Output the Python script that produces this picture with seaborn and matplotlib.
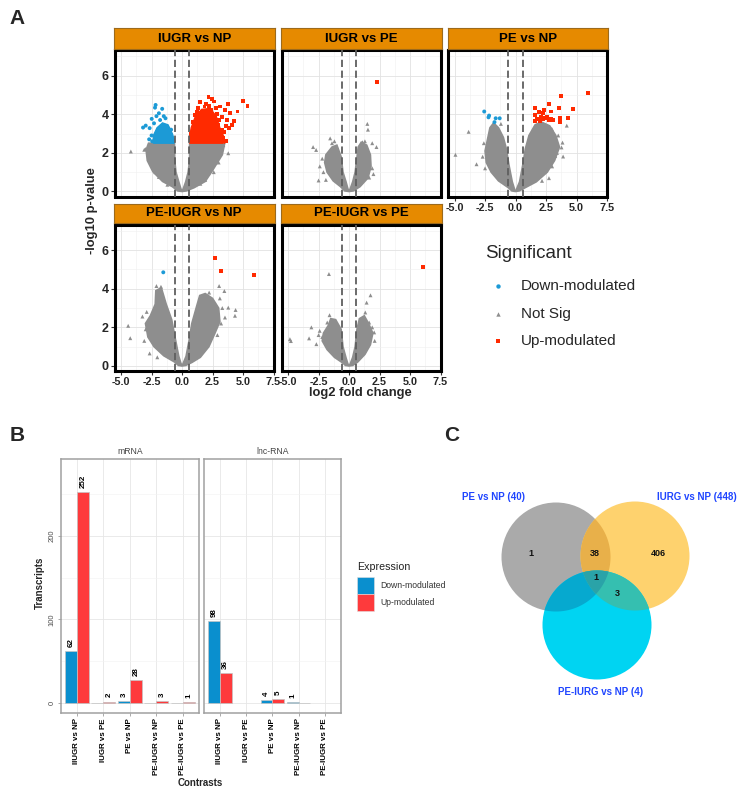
import numpy as np
import pandas as pd
import matplotlib
matplotlib.use("Agg")
import matplotlib.pyplot as plt
import seaborn as sns
from matplotlib.patches import Circle, Rectangle, Polygon

# ============================ DATA ============================
volcano_titles = ["IUGR vs NP", "IUGR vs PE", "PE vs NP", "PE-IUGR vs NP", "PE-IUGR vs PE"]
sig_levels = ["Down-modulated", "Not Sig", "Up-modulated"]
x_ticks = [-5.0, -2.5, 0.0, 2.5, 5.0, 7.5]
y_ticks = [0, 2, 4, 6]
fc_cutoff = 0.585

# --- IUGR vs NP ---
up_iugr_np = [(2.17, 4.91), (2.44, 4.79), (1.49, 4.62), (5.01, 4.69), (5.37, 4.45), (4.55, 4.14),
              (3.74, 4.52), (4.28, 3.66), (3.85, 3.28), (3.39, 2.76), (3.52, 4.22), (3.93, 4.05),
              (3.25, 3.88), (2.98, 3.45), (3.66, 3.71), (2.76, 4.31), (1.84, 4.40), (1.08, 3.97),
              (2.60, 4.66), (3.12, 4.40), (4.06, 3.45), (3.47, 3.10), (1.30, 4.30), (2.00, 4.55),
              (2.90, 4.00), (3.60, 3.40), (3.20, 3.00), (0.90, 3.60), (0.75, 3.00), (3.60, 2.60),
              (3.30, 3.20), (2.40, 4.20), (0.70, 2.75), (1.20, 4.10), (2.20, 4.45), (3.00, 3.70)]
up_core_iugr_np = [(0.62, 2.5), (3.5, 2.5), (3.45, 2.8), (3.1, 3.3), (2.8, 3.9), (2.3, 4.3),
                   (1.6, 4.25), (1.1, 3.9), (0.75, 3.3), (0.62, 2.8)]
down_iugr_np = [(-3.20, 3.31), (-2.98, 3.41), (-2.17, 4.48), (-2.22, 4.34), (-1.63, 4.28), (-2.49, 3.76),
                (-1.36, 3.79), (-1.90, 4.05), (-2.66, 3.28), (-2.30, 3.53), (-1.22, 3.36), (-2.70, 2.70),
                (-2.50, 2.90), (-1.50, 3.90), (-1.80, 3.70), (-0.90, 3.20), (-2.10, 3.90), (-1.00, 2.90),
                (-2.45, 2.60), (-0.75, 2.70)]
down_core_iugr_np = [(-0.65, 2.5), (-2.35, 2.5), (-2.35, 2.9), (-2.05, 3.3), (-1.6, 3.55),
                     (-1.15, 3.45), (-0.8, 3.0), (-0.65, 2.7)]
ns_iugr_np = [(-4.2, 2.07), (3.79, 1.98), (2.17, 0.95), (3.25, 2.24), (-1.68, 1.31), (-2.44, 1.72),
              (2.9, 2.35), (-3.0, 2.2), (3.0, 1.5), (2.6, 1.0), (-2.2, 1.0), (-2.7, 1.72),
              (-2.17, 1.47), (-1.36, 0.69), (-3.1, 2.16), (2.44, 1.55), (2.71, 1.72), (1.9, 0.6),
              (2.98, 2.24), (3.39, 2.4), (-1.9, 0.75), (1.5, 0.4), (-1.2, 0.35)]
cloud_l_iugr_np = [(0, 0), (-0.35, 0.03), (-0.8, 0.25), (-1.6, 0.52), (-2.4, 1.03), (-2.85, 1.6),
                   (-2.95, 2.15), (-2.75, 2.5), (-0.62, 2.5), (-0.6, 1.6), (-0.5, 1.0), (-0.27, 0.5),
                   (-0.1, 0.15)]
cloud_r_iugr_np = [(0, 0), (0.1, 0.15), (0.3, 0.5), (0.5, 1.0), (0.62, 1.6), (0.62, 2.5), (3.5, 2.5),
                   (3.3, 1.9), (2.44, 1.03), (1.9, 0.52), (1.0, 0.2), (0.35, 0.03)]

# --- IUGR vs PE ---
up_iugr_pe = [(2.3, 5.67)]
down_iugr_pe = []
ns_iugr_pe = [(-2.95, 2.3), (-2.5, 0.57), (-1.55, 2.75), (-1.4, 2.5), (1.5, 3.5), (1.55, 3.2),
              (1.9, 2.5), (2.25, 2.3), (1.1, 2.55), (1.65, 0.72), (-2.7, 2.15), (-2.2, 1.7),
              (-1.0, 2.3), (1.3, 2.6), (-2.4, 1.3), (-2.1, 1.0), (-1.9, 0.6), (1.9, 1.2),
              (2.0, 0.9), (-1.2, 2.6)]
cloud_l_iugr_pe = [(0, 0), (-0.35, 0.03), (-0.7, 0.25), (-1.3, 0.55), (-1.8, 1.0), (-2.0, 1.5),
                   (-1.9, 1.9), (-1.4, 2.3), (-1.0, 2.4), (-0.65, 1.8), (-0.5, 1.0), (-0.25, 0.5),
                   (-0.1, 0.15)]
cloud_r_iugr_pe = [(0, 0), (0.1, 0.15), (0.3, 0.5), (0.5, 1.0), (0.62, 1.6), (0.75, 2.3), (1.0, 2.55),
                   (1.45, 2.4), (1.75, 1.9), (1.8, 1.3), (1.55, 0.7), (0.9, 0.25), (0.35, 0.03)]

# --- PE vs NP ---
up_pe_np = [(5.96, 5.12), (3.71, 4.93), (2.74, 4.52), (3.60, 4.34), (4.74, 4.29), (1.60, 4.31),
            (2.93, 4.14), (2.33, 4.20), (2.22, 4.05), (1.90, 4.10), (1.63, 3.97), (2.09, 3.88),
            (2.44, 3.79), (1.79, 3.74), (1.57, 3.66), (1.98, 3.66), (2.25, 3.74), (2.71, 3.71),
            (2.93, 3.74), (3.09, 3.72), (3.63, 3.79), (3.66, 3.62), (4.28, 3.81), (2.60, 3.88)]
down_pe_np = [(-2.57, 4.14), (-2.17, 3.93), (-2.22, 3.84), (-1.63, 3.79), (-1.30, 3.79), (-1.73, 3.59)]
ns_pe_np = [(-3.85, 3.09), (-4.93, 1.9), (-3.2, 1.41), (3.85, 2.53), (3.77, 2.28), (3.9, 1.81),
            (3.25, 1.84), (2.74, 0.69), (2.17, 0.55), (2.98, 3.24), (4.2, 3.41), (-2.6, 2.5),
            (3.5, 2.9), (-1.2, 3.5), (-2.7, 1.8), (-2.5, 1.2), (3.4, 2.0), (3.0, 1.3)]
cloud_l_pe_np = [(0, 0), (-0.3, 0.03), (-0.6, 0.2), (-1.4, 0.55), (-2.0, 1.0), (-2.4, 1.5), (-2.5, 2.1),
                 (-2.3, 2.7), (-2.1, 3.3), (-1.8, 3.55), (-1.4, 3.3), (-1.0, 2.8), (-0.75, 2.2),
                 (-0.55, 1.4), (-0.27, 0.5), (-0.1, 0.15)]
cloud_r_pe_np = [(0, 0), (0.1, 0.15), (0.33, 0.5), (0.6, 1.4), (0.8, 2.2), (1.1, 2.9), (1.6, 3.45),
                 (2.1, 3.6), (2.8, 3.4), (3.3, 2.9), (3.6, 2.3), (3.2, 1.6), (2.6, 1.0), (1.7, 0.5),
                 (0.8, 0.2), (0.3, 0.03)]

# --- PE-IUGR vs NP ---
up_peiugr_np = [(2.68, 5.57), (3.17, 4.93), (5.88, 4.71)]
down_peiugr_np = [(-1.54, 4.85)]
ns_peiugr_np = [(-2.1, 4.14), (-1.73, 4.1), (-3.25, 2.56), (-4.42, 2.08), (-4.25, 1.44), (-2.98, 1.9),
                (-2.03, 0.45), (-2.66, 0.65), (3.04, 4.14), (3.47, 3.88), (2.22, 3.8), (4.39, 2.9),
                (4.34, 2.6), (3.79, 3.02), (3.52, 2.51), (3.1, 3.5), (3.3, 3.0), (-3.1, 1.3),
                (-2.9, 2.8), (2.9, 1.6), (3.2, 2.2)]
cloud_l_peiugr_np = [(0, 0), (-0.3, 0.03), (-0.6, 0.2), (-1.5, 0.53), (-2.3, 1.0), (-2.8, 1.5),
                     (-3.0, 2.2), (-2.6, 2.6), (-2.2, 3.2), (-2.15, 3.9), (-1.7, 4.05), (-1.3, 3.2),
                     (-0.85, 2.4), (-0.55, 1.4), (-0.27, 0.5), (-0.1, 0.15)]
cloud_r_peiugr_np = [(0, 0), (0.1, 0.15), (0.33, 0.5), (0.6, 1.4), (0.8, 2.2), (1.2, 3.1), (1.45, 3.65),
                     (1.9, 3.75), (2.5, 3.5), (3.0, 3.0), (3.1, 2.3), (2.7, 1.7), (2.2, 1.0),
                     (1.5, 0.45), (0.8, 0.18), (0.3, 0.03)]

# --- PE-IUGR vs PE ---
up_peiugr_pe = [(6.04, 5.14)]
down_peiugr_pe = []
ns_peiugr_pe = [(-1.65, 4.76), (1.76, 3.66), (1.44, 3.28), (-1.6, 2.63), (-1.79, 2.25), (-3.09, 2.0),
                (-3.28, 1.43), (-4.85, 1.39), (-4.77, 1.29), (-2.41, 1.82), (-2.68, 1.13), (1.33, 2.77),
                (1.65, 2.25), (2.06, 1.74), (-2.2, 1.5), (1.9, 2.0), (-2.5, 1.6), (2.1, 1.3)]
cloud_l_peiugr_pe = [(0, 0), (-0.3, 0.03), (-0.5, 0.15), (-1.2, 0.45), (-1.8, 0.85), (-2.2, 1.3),
                     (-2.1, 1.7), (-1.7, 2.1), (-1.5, 2.45), (-1.1, 2.4), (-0.65, 1.9), (-0.5, 1.0),
                     (-0.24, 0.4), (-0.1, 0.12)]
cloud_r_peiugr_pe = [(0, 0), (0.1, 0.12), (0.3, 0.45), (0.5, 1.0), (0.65, 1.9), (0.85, 2.45),
                     (1.25, 2.6), (1.6, 2.2), (1.95, 1.7), (1.75, 1.1), (1.3, 0.6), (0.7, 0.2),
                     (0.3, 0.03)]

volcano_up = [up_iugr_np, up_iugr_pe, up_pe_np, up_peiugr_np, up_peiugr_pe]
volcano_down = [down_iugr_np, down_iugr_pe, down_pe_np, down_peiugr_np, down_peiugr_pe]
volcano_ns = [ns_iugr_np, ns_iugr_pe, ns_pe_np, ns_peiugr_np, ns_peiugr_pe]
volcano_cloud_l = [cloud_l_iugr_np, cloud_l_iugr_pe, cloud_l_pe_np, cloud_l_peiugr_np, cloud_l_peiugr_pe]
volcano_cloud_r = [cloud_r_iugr_np, cloud_r_iugr_pe, cloud_r_pe_np, cloud_r_peiugr_np, cloud_r_peiugr_pe]
volcano_up_core = [up_core_iugr_np, None, None, None, None]
volcano_down_core = [down_core_iugr_np, None, None, None, None]

# --- Panel B: bar counts ---
contrasts = ["IIUGR vs NP", "IUGR vs PE", "PE vs NP", "PE-IUGR vs NP", "PE-IUGR vs PE"]
expression_levels = ["Down-modulated", "Up-modulated"]
mrna_down = [62, 0, 3, 0, 0]
mrna_up = [252, 2, 28, 3, 1]
lnc_down = [98, None, 4, 1, None]
lnc_up = [36, None, 5, 0, None]
bar_y_ticks = [0, 100, 200]

# --- Panel C: Venn ---
venn_set_labels = ["PE vs NP (40)", "IURG vs NP (448)", "PE-IURG vs NP (4)"]
venn_region_counts = ["1", "38", "406", "1", "3"]

# ============================ STYLE ============================
sns.set_theme(style="white")
plt.rcParams["font.family"] = ["Liberation Sans", "DejaVu Sans"]

C_DOWN = "#1c9ad6"
C_NS = "#8e8e8e"
C_UP = "#ff2a00"
C_STRIP = "#E68A00"
C_BAR_DOWN = "#0a8fce"
C_BAR_UP = "#fe3a3c"

W, H = 743, 792
fig = plt.figure(figsize=(W / 100, H / 100), dpi=100)


def px_axes(x0, y0, x1, y1, **kw):
    return fig.add_axes([x0 / W, 1 - y1 / H, (x1 - x0) / W, (y1 - y0) / H], **kw)


# ============================ PANEL A ============================
col_x = [(115, 273.5), (282, 440.5), (448.5, 607)]
row_y = [(50.5, 196.5), (225, 371)]
strip_y = [(28.5, 48.5), (203.5, 223)]
ylim_v = (-0.26, 7.3)

pal = {"Down-modulated": C_DOWN, "Not Sig": C_NS, "Up-modulated": C_UP}
mk = {"Down-modulated": "o", "Not Sig": "^", "Up-modulated": "s"}

for i, title in enumerate(volcano_titles):
    r, c = divmod(i, 3)
    x0, x1 = col_x[c]
    y0, y1 = row_y[r]
    ax = px_axes(x0, y0, x1, y1)
    ax.set_facecolor("white")
    ax.set_xlim(-5.5, 7.5)
    ax.set_ylim(*ylim_v)
    ax.set_xticks(x_ticks)
    ax.set_yticks(y_ticks)
    ax.set_xticks([-3.75, -1.25, 1.25, 3.75, 6.25], minor=True)
    ax.set_yticks([1, 3, 5, 7], minor=True)
    ax.grid(which="major", color="#e2e2e2", lw=0.6)
    ax.grid(which="minor", color="#f0f0f0", lw=0.4)
    ax.set_axisbelow(True)

    for poly in (volcano_cloud_l[i], volcano_cloud_r[i]):
        px, py = zip(*poly)
        ax.fill(px, py, color=C_NS, ec=C_NS, lw=1.2, zorder=2)
    if volcano_up_core[i] is not None:
        px, py = zip(*volcano_up_core[i])
        ax.fill(px, py, color=C_UP, ec=C_UP, lw=1.0, zorder=2)
    if volcano_down_core[i] is not None:
        px, py = zip(*volcano_down_core[i])
        ax.fill(px, py, color=C_DOWN, ec=C_DOWN, lw=1.0, zorder=2)

    rows = []
    for lvl, pts in (("Down-modulated", volcano_down[i]), ("Not Sig", volcano_ns[i]),
                     ("Up-modulated", volcano_up[i])):
        for (xv, yv) in pts:
            rows.append({"log2FC": xv, "nlogp": yv, "Significant": lvl})
    df = pd.DataFrame(rows)
    sns.scatterplot(data=df, x="log2FC", y="nlogp", hue="Significant", style="Significant",
                    hue_order=sig_levels, style_order=sig_levels, palette=pal, markers=mk,
                    s=8, linewidth=0, legend=False, ax=ax, zorder=3)
    for v in (-fc_cutoff, fc_cutoff):
        ax.axvline(v, color="#5f5f5f", lw=1.3, ls=(0, (4, 2)), zorder=4)
    ax.set_xlabel("")
    ax.set_ylabel("")
    for s in ax.spines.values():
        s.set_color("black")
        s.set_linewidth(2.2)

    show_x = (r == 1) or (i == 2)
    show_y = (c == 0)
    ax.tick_params(axis="x", which="major", bottom=show_x, labelbottom=show_x, length=3,
                   width=0.8, color="#333333", pad=1.5, labelsize=7.8)
    ax.tick_params(axis="y", which="major", left=show_y, labelleft=show_y, length=3,
                   width=0.8, color="#333333", pad=1.5, labelsize=9)
    ax.tick_params(which="minor", length=0)
    ax.set_xticklabels([f"{t:.1f}" for t in x_ticks], fontweight="bold")
    ax.set_yticklabels([str(t) for t in y_ticks], fontweight="bold")

    sy0, sy1 = strip_y[r]
    sax = px_axes(x0 - 1, sy0, x1 + 1, sy1)
    sax.set_facecolor(C_STRIP)
    sax.set_xticks([])
    sax.set_yticks([])
    for s in sax.spines.values():
        s.set_color("#9c6a1c")
        s.set_linewidth(0.8)
    sax.text(0.5, 0.5, title, ha="center", va="center", fontsize=9.5, fontweight="bold",
             color="black", transform=sax.transAxes)

# ============================ PANEL B ============================
bar_specs = [("mRNA", mrna_down, mrna_up, (61, 198.7)), ("lnc-RNA", lnc_down, lnc_up, (204, 340.7))]
for k, (name, dvals, uvals, (bx0, bx1)) in enumerate(bar_specs):
    ax = px_axes(bx0, 459.3, bx1, 713.3)
    rows = []
    for ci, cname in enumerate(contrasts):
        if dvals[ci] is not None:
            rows.append({"Contrast": cname, "Expression": "Down-modulated", "Transcripts": dvals[ci]})
        if uvals[ci] is not None:
            rows.append({"Contrast": cname, "Expression": "Up-modulated", "Transcripts": uvals[ci]})
    df = pd.DataFrame(rows)
    sns.barplot(data=df, x="Contrast", y="Transcripts", hue="Expression", order=contrasts,
                hue_order=expression_levels, palette=[C_BAR_DOWN, C_BAR_UP], width=0.9,
                saturation=1, edgecolor="#c4c4c4", linewidth=0.5, legend=False, ax=ax,
                errorbar=None)
    for cont in ax.containers:
        labels = [f"{int(v)}" if (v is not None and not np.isnan(v) and v > 0) else ""
                  for v in cont.datavalues]
        ax.bar_label(cont, labels=labels, rotation=90, padding=3, fontsize=5.8,
                     fontweight="bold", color="black")
    ax.set_xlim(-0.6, 4.6)
    ax.set_ylim(-11.9, 291)
    ax.set_yticks(bar_y_ticks)
    ax.set_yticks([50, 150, 250], minor=True)
    ax.grid(which="major", color="#e6e6e6", lw=0.6)
    ax.grid(which="minor", axis="y", color="#f2f2f2", lw=0.4)
    ax.set_axisbelow(True)
    ax.set_xlabel("")
    ax.set_ylabel("")
    for s in ax.spines.values():
        s.set_color("#a0a0a0")
        s.set_linewidth(1.1)
    ax.set_xticks(range(len(contrasts)))
    ax.set_xticklabels(contrasts, rotation=90, fontsize=5.7, fontweight="bold", color="black")
    ax.tick_params(axis="x", length=2, width=0.5, color="#888888", pad=1.5, bottom=True)
    if k == 0:
        ax.set_yticklabels([str(t) for t in bar_y_ticks], rotation=90, va="center",
                           fontsize=5.5, color="#4d4d4d")
        ax.tick_params(axis="y", which="major", length=2, width=0.5, color="#888888", pad=2, left=True)
    else:
        ax.tick_params(axis="y", which="major", left=False, labelleft=False)
    ax.tick_params(which="minor", length=0)
    fig.text(((bx0 + bx1) / 2) / W, 1 - 451.5 / H, name, ha="center", va="center",
             fontsize=6.2, color="#444444")

# ============================ OVERLAY (titles, legends, Venn) ============================
ov = fig.add_axes([0, 0, 1, 1])
ov.set_xlim(0, W)
ov.set_ylim(H, 0)
ov.axis("off")

ov.text(16.7, 18.5, "A", fontsize=15, fontweight="bold", ha="center", va="center")
ov.text(17, 435.5, "B", fontsize=15, fontweight="bold", ha="center", va="center")
ov.text(451.5, 435.5, "C", fontsize=15, fontweight="bold", ha="center", va="center")

ov.text(92, 211, "-log10 p-value", rotation=90, fontsize=9.4, fontweight="bold",
        ha="center", va="center")
ov.text(360.5, 393, "log2 fold change", fontsize=9.4, fontweight="bold", ha="center", va="center")

# volcano legend
ov.text(485, 253.5, "Significant", fontsize=13.5, ha="left", va="center")
leg_y = [286, 314, 341]
for lvl, yy in zip(sig_levels, leg_y):
    ov.scatter([498.3], [yy], marker=mk[lvl], s=10, color=pal[lvl], linewidths=0)
    ov.text(521, yy, lvl, fontsize=11, ha="left", va="center")

# bar axis titles
ov.text(40, 583, "Transcripts", rotation=90, fontsize=7, fontweight="bold", ha="center", va="center")
ov.text(200.5, 783, "Contrasts", fontsize=7, fontweight="bold", ha="center", va="center")

# bar legend
ov.text(357, 566.7, "Expression", fontsize=7.7, ha="left", va="center", color="#222222")
for lvl, col, yy in zip(expression_levels, [C_BAR_DOWN, C_BAR_UP], [577.3, 594.0]):
    ov.add_patch(Rectangle((357.3, yy), 16.7, 16.7, facecolor=col, edgecolor="#e0e0e0", lw=0.4))
    ov.text(380, yy + 8.4, lvl, fontsize=6.2, ha="left", va="center", color="#333333")

# Venn diagram (regions coloured as in the reference)
venn_centers = [(556, 557), (635, 556), (597, 625)]
venn_radius = 54.5
region_colors = {(0,): "#aaaaaa", (1,): "#fed26e", (2,): "#00d4f2",
                 (0, 1): "#e8b04a", (0, 2): "#06a9cf", (1, 2): "#35bfb0", (0, 1, 2): "#2aa3a8"}


def circle_intersection(idx, n=900):
    pts = []
    th = np.linspace(0, 2 * np.pi, n, endpoint=False)
    for a in idx:
        cx, cy = venn_centers[a]
        bx = cx + venn_radius * np.cos(th)
        by = cy + venn_radius * np.sin(th)
        mask = np.ones(n, dtype=bool)
        for b in idx:
            if b != a:
                ox, oy = venn_centers[b]
                mask &= (bx - ox) ** 2 + (by - oy) ** 2 <= venn_radius ** 2 + 1e-6
        pts.extend(zip(bx[mask], by[mask]))
    pts = np.array(pts)
    cen = pts.mean(axis=0)
    order = np.argsort(np.arctan2(pts[:, 1] - cen[1], pts[:, 0] - cen[0]))
    return pts[order]


for key in [(0,), (1,), (2,), (0, 1), (0, 2), (1, 2), (0, 1, 2)]:
    if len(key) == 1:
        ov.add_patch(Circle(venn_centers[key[0]], venn_radius, facecolor=region_colors[key],
                            edgecolor="none"))
    else:
        ov.add_patch(Polygon(circle_intersection(key), closed=True, facecolor=region_colors[key],
                             edgecolor="none"))

venn_label_pos = [(493, 497.5), (697, 497.5), (601, 692)]
for txt, (lx, ly) in zip(venn_set_labels, venn_label_pos):
    ov.text(lx, ly, txt, fontsize=7, fontweight="bold", color="#1f45ff", ha="center", va="center")
venn_count_pos = [(531, 553), (595, 553), (658, 553), (596, 578), (617, 594)]
for txt, (lx, ly) in zip(venn_region_counts, venn_count_pos):
    ov.text(lx, ly, txt, fontsize=6.5, fontweight="bold", color="#111111", ha="center", va="center")

fig.savefig("out.png", dpi=100)
